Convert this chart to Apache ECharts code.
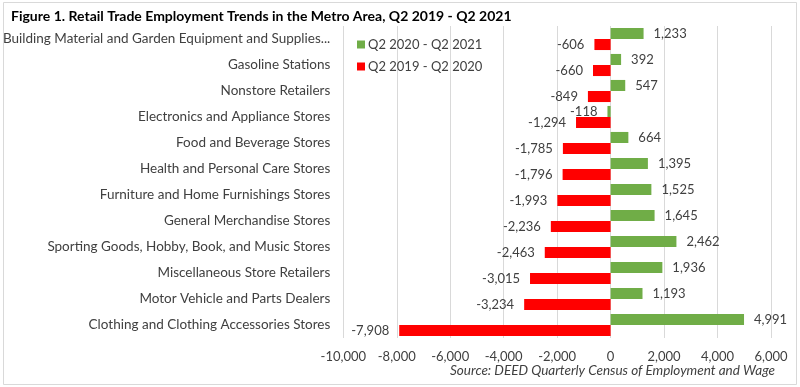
<!DOCTYPE html>
<html>
<head>
<meta charset="utf-8">
<script src="https://cdn.jsdelivr.net/npm/echarts@6/dist/echarts.min.js"></script>
<style>
html,body{margin:0;padding:0;background:#fff;}
#chart{width:800px;height:387px;}
</style>
</head>
<body>
<div id="chart"></div>
<script>
const categories = [
  "Building Material and Garden Equipment and Supplies...",
  "Gasoline Stations",
  "Nonstore Retailers",
  "Electronics and Appliance Stores",
  "Food and Beverage Stores",
  "Health and Personal Care Stores",
  "Furniture and Home Furnishings Stores",
  "General Merchandise Stores",
  "Sporting Goods, Hobby, Book, and Music Stores",
  "Miscellaneous Store Retailers",
  "Motor Vehicle and Parts Dealers",
  "Clothing and Clothing Accessories Stores"
];
const seriesNames = ["Q2 2020 - Q2 2021", "Q2 2019 - Q2 2020"];
const values2021 = [1233, 392, 547, -118, 664, 1395, 1525, 1645, 2462, 1936, 1193, 4991];
const values2020 = [-606, -660, -849, -1294, -1785, -1796, -1993, -2236, -2463, -3015, -3234, -7908];
const xTicks = { min: -10000, max: 6000, interval: 2000 };
const titleText = "Figure 1. Retail Trade Employment Trends in the Metro Area, Q2 2019 - Q2 2021";
const sourceText = "Source: DEED Quarterly Census of Employment and Wage";

const FONT = "Lato, 'Open Sans', sans-serif";
const fmt = v => v.toLocaleString('en-US');

const chart = echarts.init(document.getElementById('chart'), null, {renderer: 'canvas'});

function labelFor(v) {
  return {
    show: true,
    position: v >= 0 ? 'right' : 'left',
    distance: 10,
    color: '#404040',
    fontFamily: FONT,
    fontSize: 13,
    formatter: p => fmt(p.value)
  };
}

const option = {
  backgroundColor: '#fff',
  animation: false,
  title: {
    text: titleText,
    left: 6, top: 4,
    textStyle: {fontFamily: FONT, fontSize: 14, fontWeight: 'bold', color: '#000'}
  },
  graphic: [
    {type: 'rect', shape: {x: 3.5, y: 2.5, width: 793, height: 382}, style: {fill: null, stroke: '#d9d9d9', lineWidth: 1}, silent: true, z: -1},
    {type: 'text', right: 25, top: 364, style: {text: sourceText, fontFamily: FONT, fontSize: 13.5, fontStyle: 'italic', fill: '#404040'}}
  ],
  legend: {
    data: seriesNames,
    orient: 'vertical',
    left: 352, top: 33,
    itemWidth: 8, itemHeight: 8, itemGap: 9,
    icon: 'rect',
    textStyle: {fontFamily: FONT, fontSize: 13, color: '#404040', padding: [0, 0, 0, -2]}
  },
  grid: {left: 343, right: 29, top: 26, bottom: 49, containLabel: false},
  xAxis: {
    type: 'value',
    min: xTicks.min, max: xTicks.max, interval: xTicks.interval,
    axisLine: {show: false},
    axisTick: {show: false},
    splitLine: {lineStyle: {color: '#d9d9d9', width: 1}},
    axisLabel: {fontFamily: FONT, fontSize: 13, color: '#404040', margin: 12, formatter: v => fmt(v)}
  },
  yAxis: {
    type: 'category',
    data: categories,
    inverse: true,
    axisLine: {show: false},
    axisTick: {show: false},
    axisLabel: {fontFamily: FONT, fontSize: 13.5, color: '#404040', margin: 13}
  },
  series: [
    {
      name: seriesNames[0], type: 'bar',
      data: values2021.map(v => ({value: v, label: labelFor(v)})),
      itemStyle: {color: '#70AD47'},
      barGap: '0%', barCategoryGap: '15%'
    },
    {
      name: seriesNames[1], type: 'bar',
      data: values2020.map(v => ({value: v, label: labelFor(v)})),
      itemStyle: {color: '#FF0000'},
      barGap: '0%', barCategoryGap: '15%'
    }
  ]
};
chart.setOption(option);
</script>
</body>
</html>
